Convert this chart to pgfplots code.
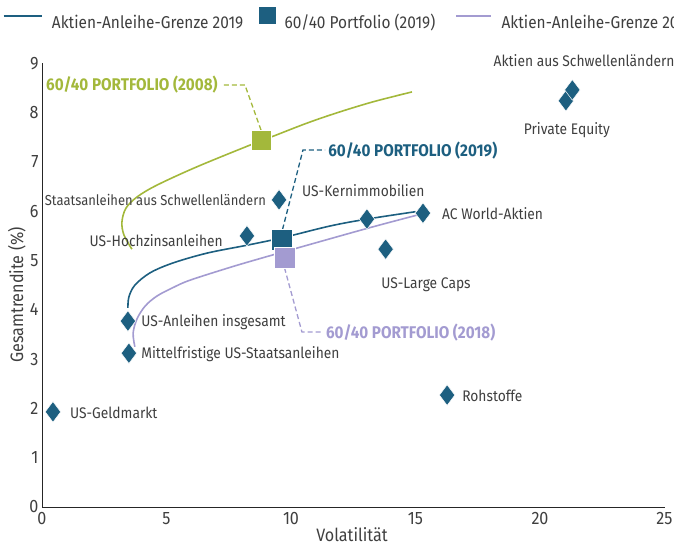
\documentclass[border=0pt]{standalone}
\usepackage{pgfplots}
\pgfplotsset{compat=1.18}
\usepackage{fontspec}
\setmainfont[FakeStretch=0.9]{Fira Sans}
\definecolor{cblue}{HTML}{1D5F80}
\definecolor{cgreen}{HTML}{A3B83B}
\definecolor{cpurple}{HTML}{A39BD1}
\definecolor{ctext}{HTML}{3F3F3F}
\begin{document}
\begin{tikzpicture}
\begin{axis}[
  x=24.9bp, y=49.3bp,
  at={(0bp,0bp)}, anchor=origin,
  xmin=0, xmax=25, ymin=0, ymax=9,
  axis x line=bottom, axis y line=left,
  axis line style={-, line width=0.8bp, black!85},
  xtick={0,5,10,15,20,25}, ytick={0,1,2,3,4,5,6,7,8,9},
  major tick length=0pt,
  tick label style={font=\fontsize{18}{18}\selectfont, text=ctext},
  xticklabel style={yshift=-2bp},
  /pgf/number format/assume math mode=true,
  xlabel={Volatilität}, ylabel={Gesamtrendite (\%)},
  label style={font=\fontsize{18}{18}\selectfont, text=ctext},
  xlabel style={at={(axis description cs:0.498,-0.063)}, anchor=center},
  ylabel style={at={(axis description cs:-0.0402,0.478)}, anchor=center},
  clip=false,
  legend columns=-1,
  legend style={draw=none, fill=none, inner sep=0pt, at={(-0.0643,1.101)}, anchor=west,
    font=\fontsize{17.2}{17.2}\selectfont, text=ctext,
    nodes={inner sep=0pt},
    /tikz/every odd column/.append style={column sep=9bp},
    /tikz/every even column/.append style={column sep=16bp}},
]
% legend
\addlegendimage{legend image code/.code={\draw[cblue, line width=2.8bp] (0bp,6bp) -- (38bp,6bp);}}
\addlegendentry{Aktien-Anleihe-Grenze 2019}
\addlegendimage{legend image code/.code={\fill[cblue] (0bp,-1bp) rectangle (16bp,15bp);}}
\addlegendentry{60/40 Portfolio (2019)}
\addlegendimage{legend image code/.code={\path[draw=none, fill=none] (0bp,6bp) -- (5bp,6bp); \draw[cpurple, line width=2.8bp] (5bp,6bp) -- (40bp,6bp);}}
\addlegendentry{Aktien-Anleihe-Grenze 2018}

% frontiers
\addplot[forget plot, cgreen, line width=1.6bp, smooth, tension=0.55] coordinates {
(3.61,5.23) (3.29,5.52) (3.21,5.78) (3.37,6.06) (3.82,6.29) (4.62,6.53) (6.22,6.90) (8.35,7.34) (9.28,7.52) (10.5,7.76) (11.45,7.93) (12.5,8.10) (13.45,8.24) (14.86,8.42)};
\addplot[forget plot, cpurple, line width=1.6bp, smooth, tension=0.55] coordinates {
(3.73,3.25) (3.66,3.53) (3.82,3.82) (4.15,4.08) (4.62,4.28) (5.26,4.45) (5.94,4.60) (7.55,4.86) (8.76,5.04) (10.16,5.24) (13.05,5.65) (15.06,5.92)};
\addplot[forget plot, cblue, line width=1.6bp, smooth, tension=0.55] coordinates {
(3.45,4.04) (3.49,4.26) (3.73,4.50) (4.34,4.75) (5.26,4.95) (6.63,5.15) (8.23,5.31) (9.64,5.46) (11.57,5.70) (13.05,5.84) (15.0,5.99)};

% leaders
\addplot[forget plot, cgreen, line width=1.3bp, dash pattern=on 5bp off 3bp] coordinates {(7.3,8.56) (8.15,8.56) (8.8,7.64)};
\addplot[forget plot, cblue, line width=1.3bp, dash pattern=on 5bp off 3bp] coordinates {(9.66,5.63) (10.48,7.24) (11.37,7.24)};
\addplot[forget plot, cpurple, line width=1.3bp, dash pattern=on 5bp off 3bp] coordinates {(9.74,4.85) (10.44,3.55) (11.24,3.55)};

% assets
\addplot[forget plot, only marks, mark=diamond*, mark size=10.3bp, mark options={fill=cblue, draw=white, line width=0.5bp}] coordinates {
(0.44,1.93) (3.49,3.12) (3.45,3.77) (8.23,5.5) (9.52,6.23) (13.05,5.84) (15.3,5.96) (13.8,5.23) (16.27,2.27) (21.04,8.24) (21.3,8.46)};

% portfolios
\addplot[forget plot, only marks, mark=square*, mark size=10.3bp, mark options={fill=cgreen, draw=white, line width=0.5bp}] coordinates {(8.8,7.44)};
\addplot[forget plot, only marks, mark=square*, mark size=10.3bp, mark options={fill=cblue, draw=white, line width=0.5bp}] coordinates {(9.64,5.42)};
\addplot[forget plot, only marks, mark=square*, mark size=10.3bp, mark options={fill=cpurple, draw=white, line width=0.5bp}] coordinates {(9.74,5.06)};

% labels
\begin{scope}[every node/.style={font=\fontsize{15.4}{15.4}\selectfont, text=ctext, inner sep=0pt}]
\node[anchor=west] at (axis cs:1.12,1.91) {US-Geldmarkt};
\node[anchor=west] at (axis cs:3.98,3.10) {Mittelfristige US-Staatsanleihen};
\node[anchor=west] at (axis cs:3.98,3.75) {US-Anleihen insgesamt};
\node[anchor=east] at (axis cs:7.27,5.40) {US-Hochzinsanleihen};
\node[anchor=east, font=\fontsize{14.5}{14.5}\selectfont] at (axis cs:9.0,6.23) {Staatsanleihen aus Schwellenländern};
\node[anchor=west] at (axis cs:10.44,6.41) {US-Kernimmobilien};
\node[anchor=west] at (axis cs:16.06,5.96) {AC World-Aktien};
\node at (axis cs:15.42,4.50) {US-Large Caps};
\node[anchor=west] at (axis cs:16.87,2.25) {Rohstoffe};
\node at (axis cs:21.08,7.65) {Private Equity};
\node at (axis cs:21.77,9.05) {Aktien aus Schwellenländern};
\end{scope}
\begin{scope}[every node/.style={font=\bfseries\fontsize{17}{17}\selectfont, inner sep=0pt}]
\node[anchor=center, text=cgreen] at (axis cs:3.61,8.56) {60/40 PORTFOLIO (2008)};
\node[anchor=west, text=cblue] at (axis cs:11.49,7.22) {60/40 PORTFOLIO (2019)};
\node[anchor=west, text=cpurple] at (axis cs:11.4,3.53) {60/40 PORTFOLIO (2018)};
\end{scope}
\end{axis}
\pgfresetboundingbox
\useasboundingbox (-42bp,-39bp) rectangle (632bp,507bp);
\end{tikzpicture}
\end{document}
